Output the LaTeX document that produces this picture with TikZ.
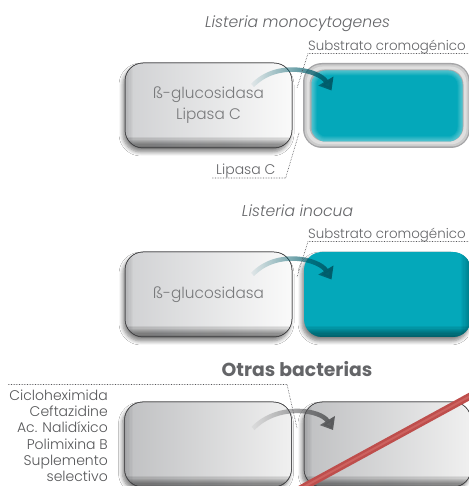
\documentclass[tikz,border=0pt]{standalone}
\usepackage{fontspec}
\IfFontExistsTF{Poppins Light}{\setmainfont{Poppins}[UprightFont=* Light,ItalicFont=* Light Italic,BoldFont=* Bold]}{\setmainfont{Poppins}}
\usetikzlibrary{arrows.meta,shadows.blur,fadings}
\definecolor{txt}{RGB}{100,101,104}
\definecolor{boxtxt}{RGB}{120,121,123}
\definecolor{listtxt}{RGB}{85,86,88}
\definecolor{teal1}{RGB}{4,168,186}
\definecolor{tealdk}{RGB}{0,92,106}
\definecolor{boxL}{RGB}{208,209,211}
\definecolor{boxR}{RGB}{250,250,250}
\definecolor{edge}{RGB}{70,70,72}
\definecolor{redbar}{RGB}{190,78,76}
\definecolor{redhi}{RGB}{214,112,108}
\definecolor{arrowgray}{RGB}{88,89,91}
\definecolor{dots}{RGB}{85,85,88}
\definecolor{ringgray}{RGB}{165,165,167}
\tikzfading[name=arrowfade, left color=transparent!95, right color=transparent!0]
\tikzset{
  stdshadow/.style={blur shadow={shadow xshift=-2pt, shadow yshift=-4pt, shadow blur radius=4pt, shadow blur steps=6, shadow opacity=50}},
  boxbase/.style={rectangle, rounded corners=18pt, minimum width=167pt, minimum height=85pt, inner sep=0pt, outer sep=0pt},
  graybox/.style={boxbase, left color=boxL, right color=boxR, draw=edge, line width=0.5pt, stdshadow, align=center, text=boxtxt, font=\fontsize{15.3}{21}\selectfont},
  graybox2/.style={boxbase, left color=boxL!92!black, right color=boxR!96!black, draw=edge, line width=0.5pt, stdshadow},
  tealbox/.style={boxbase, fill=teal1, stdshadow},
  ringbox/.style={boxbase, rounded corners=19pt, fill=ringgray},
  title/.style={text=txt, font=\fontsize{15.6}{18}\selectfont\itshape, inner sep=0pt},
  lbl/.style={text=txt, font=\fontsize{13.4}{15}\selectfont, inner sep=0pt},
  listlbl/.style={text=listtxt, font=\fontsize{14}{16}\selectfont, inner sep=0pt, anchor=base east},
  dotline/.style={draw=dots, line width=0.6pt, dash pattern=on 0.6pt off 1pt},
  tealarrow/.style={draw=tealdk, line width=4.5pt, path fading=arrowfade, -{Triangle[length=11pt,width=17pt]}},
  grayarrow/.style={draw=arrowgray, line width=4.5pt, path fading=arrowfade, -{Triangle[length=11pt,width=17pt]}},
}
% bottom and left bevel of a box: node name, strip opacity
\newcommand\mybevel[2]{%
  \begin{scope}
    \clip[rounded corners=18pt] (#1.south west) rectangle (#1.north east);
    \foreach \k in {1,...,9} {\fill[black, opacity=#2] ([yshift=-3pt]#1.south west) rectangle ([yshift=\k*1.2pt]#1.south east);}
    \foreach \k in {1,...,6} {\fill[black, opacity=0.025] (#1.south west) rectangle ([xshift=\k*1.4pt]#1.north west);}
  \end{scope}
  \draw[edge, line width=0.5pt, rounded corners=18pt] (#1.south west) rectangle (#1.north east);}
\newcommand\mytealbevel[1]{%
  \begin{scope}
    \clip[rounded corners=18pt] (#1.south west) rectangle (#1.north east);
    \foreach \k in {1,...,9} {\fill[black, opacity=0.055] ([yshift=-3pt]#1.south west) rectangle ([yshift=\k*1.2pt]#1.south east);}
    \foreach \k in {1,...,8} {\fill[black, opacity=0.03] ([xshift=3pt]#1.south east) rectangle ([xshift=-\k*1.3pt]#1.north east);}
  \end{scope}}
\begin{document}
\begin{tikzpicture}[x=1pt,y=1pt]
\useasboundingbox (0,0) rectangle (468,486);
\fill[white] (0,0) rectangle (468,486);

% ---------- Section 1: Listeria monocytogenes
\node[title, anchor=base] (t1) at (297.5,458) {Listeria monocytogenes};
\node[graybox] (l1) at (208.5,380.5) {ß-glucosidasa\\Lipasa C};
\mybevel{l1}{0.07}

\node[ringbox] (r1) at (386.5,380.5) {};
\fill[gray!40, rounded corners=17pt] ([shift={(1.5pt,1.5pt)}]r1.south west) rectangle ([shift={(-1.5pt,-1.5pt)}]r1.north east);
\fill[gray!25, rounded corners=16pt] ([shift={(3.5pt,3.5pt)}]r1.south west) rectangle ([shift={(-3.5pt,-3.5pt)}]r1.north east);
\fill[gray!60, rounded corners=15pt] ([shift={(6.5pt,6.5pt)}]r1.south west) rectangle ([shift={(-6.5pt,-6.5pt)}]r1.north east);
\node[boxbase, rounded corners=14pt, minimum width=151pt, minimum height=71pt, fill=teal1] (r1in) at (387,380) {};
\begin{scope}
  \clip[rounded corners=14pt] (r1in.south west) rectangle (r1in.north east);
  \foreach \w in {2,4,6,8,10} {\draw[white, opacity=0.07, line width=\w pt, rounded corners=14pt] (r1in.south west) rectangle (r1in.north east);}
\end{scope}

\coordinate (a1s) at ([xshift=44pt,yshift=20pt]l1.center);
\coordinate (a1e) at ([xshift=-55pt,yshift=15pt]r1.center);
\draw[tealarrow] (a1s) .. controls +(25,26) and +(-12,20) .. (a1e);

\node[lbl, anchor=base west] (s1) at (308,435) {Substrato cromogénico};
\coordinate (c1) at (297,398);
\draw[dotline] (468,432.5) -- ([yshift=-2.5pt]s1.base west) -- (c1);

\node[lbl, anchor=base west, font=\fontsize{14}{16}\selectfont] (lp) at (216,311) {Lipasa C};
\coordinate (c2) at (299,353);
\draw[dotline] ([xshift=-4pt,yshift=-3pt]lp.base west) -- ([xshift=10pt,yshift=-3pt]lp.base east) -- (c2);

% ---------- Section 2: Listeria inocua
\node[title, anchor=base] (t2) at (297.5,269) {Listeria inocua};
\node[graybox] (l2) at (208.5,191.5) {ß-glucosidasa};
\mybevel{l2}{0.07}

\node[tealbox] (r2) at (387.5,191.5) {};
\mytealbevel{r2}

\coordinate (a2s) at ([xshift=44pt,yshift=20pt]l2.center);
\coordinate (a2e) at ([xshift=-56pt,yshift=15pt]r2.center);
\draw[tealarrow] (a2s) .. controls +(25,26) and +(-12,20) .. (a2e);

\node[lbl, anchor=base west] (s2) at (308,247) {Substrato cromogénico};
\coordinate (c3) at (297,209);
\draw[dotline] (468,244.5) -- ([yshift=-2.5pt]s2.base west) -- (c3);

% ---------- Section 3: Otras bacterias
\node[text=txt, font=\fontsize{18.8}{21}\selectfont\bfseries, inner sep=0pt, anchor=base] (t3) at (297,109) {Otras bacterias};
\node[graybox2] (l3) at (208,41.5) {};
\mybevel{l3}{0.07}
\node[graybox2] (r3) at (387.5,41.5) {};
\mybevel{r3}{0.07}

\coordinate (a3s) at ([xshift=45pt,yshift=16pt]l3.center);
\coordinate (a3e) at ([xshift=-54.5pt,yshift=14.5pt]r3.center);
\draw[grayarrow] (a3s) .. controls +(25,26) and +(-12,20) .. (a3e);

\coordinate (d1) at (8,101.5);
\coordinate (d2) at (287,101.5);
\coordinate (d3) at (297,58);
\draw[dotline] (d1) -- (d2) -- (d3);

\node[listlbl] (m1) at (108,85.5) {Cicloheximida};
\node[listlbl] (m2) at (108,69.3) {Ceftazidine};
\node[listlbl] (m3) at (108,53.1) {Ac. Nalidíxico};
\node[listlbl] (m4) at (108,36.9) {Polimixina B};
\node[listlbl] (m5) at (108,20.7) {Suplemento};
\node[listlbl] (m6) at (108,4.5) {selectivo};

\coordinate (rb1) at (300,-3);
\coordinate (rb2) at (474,92);
\draw[redbar, line width=7pt] (rb1) -- (rb2);
\draw[redhi, line width=2pt, opacity=0.6] (rb1) -- (rb2);
\end{tikzpicture}
\end{document}
